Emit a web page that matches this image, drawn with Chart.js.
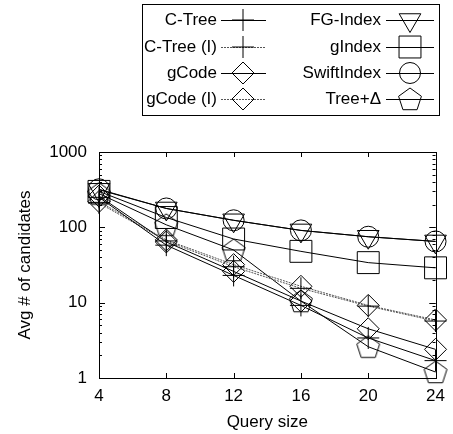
<!DOCTYPE html>
<html>
<head>
<meta charset="utf-8">
<script src="https://cdn.jsdelivr.net/npm/chart.js@4"></script>
<style>
  html, body { margin: 0; padding: 0; background: #fff; }
  #wrap { width: 453px; height: 434px; }
</style>
</head>
<body>
<div id="wrap"><canvas id="chart" width="453" height="434"></canvas></div>
<script>
// data
const querySizes = [4, 8, 12, 16, 20, 24];
const cTree      = [250, 58, 23, 9.2, 3.4, 1.7];
const cTreeI     = [210, 66, 30, 15.5, 9, 5.7];
const gCode      = [260, 64, 26, 10.5, 4.5, 2.4];
const gCodeI     = [220, 68, 32, 16.5, 9.2, 5.9];
const fgIndex    = [315, 178, 124, 91, 75, 65];
const gIndex     = [300, 135, 70, 48, 34, 29];
const swiftIndex = [320, 178, 124, 91, 75, 65];
const treeDelta  = [280, 108, 50, 10.5, 2.6, 1.2];
const yTickLabels = [1, 10, 100, 1000];

// pentagon marker (no built-in one)
const pentagon = document.createElement('canvas');
pentagon.width = 26; pentagon.height = 26;
(function () {
    const c = pentagon.getContext('2d');
    c.strokeStyle = '#000';
    c.lineWidth = 1;
    c.beginPath();
    for (let i = 0; i < 5; i++) {
        const a = -Math.PI / 2 + i * 2 * Math.PI / 5;
        const px = 13 + Math.cos(a) * 12, py = 14 + Math.sin(a) * 12;
        if (i === 0) c.moveTo(px, py); else c.lineTo(px, py);
    }
    c.closePath();
    c.stroke();
})();

const series = [
    { label: 'C-Tree',      data: cTree,      style: 'cross',    r: 11,   dash: [] },
    { label: 'C-Tree (I)',  data: cTreeI,     style: 'cross',    r: 11,   dash: [2, 1] },
    { label: 'gCode',       data: gCode,      style: 'rectRot',  r: 11,   dash: [] },
    { label: 'gCode (I)',   data: gCodeI,     style: 'rectRot',  r: 11,   dash: [2, 1] },
    { label: 'FG-Index',    data: fgIndex,    style: 'triangle', r: 12.5, dash: [], rot: 180 },
    { label: 'gIndex',      data: gIndex,     style: 'rect',     r: 15.5, dash: [] },
    { label: 'SwiftIndex',  data: swiftIndex, style: 'circle',   r: 10.5, dash: [] },
    { label: 'Tree+\u0394', data: treeDelta,  style: pentagon,   r: 12,   dash: [] }
];

Chart.defaults.font.family = '"Liberation Sans", Arial, sans-serif';
Chart.defaults.font.size = 17;
Chart.defaults.color = '#000';

function drawMarker(ctx, s, x, y) {
    ctx.save();
    ctx.strokeStyle = '#000';
    ctx.lineWidth = 1;
    ctx.setLineDash([]);
    ctx.beginPath();
    const r = s.r;
    if (s.style === pentagon) {
        ctx.drawImage(pentagon, x - 13, y - 13);
        ctx.restore();
        return;
    } else if (s.style === 'cross') {
        ctx.moveTo(x, y - r); ctx.lineTo(x, y + r);
        ctx.moveTo(x - r, y); ctx.lineTo(x + r, y);
    } else if (s.style === 'rectRot') {
        ctx.moveTo(x - r, y); ctx.lineTo(x, y - r); ctx.lineTo(x + r, y); ctx.lineTo(x, y + r); ctx.closePath();
    } else if (s.style === 'rect') {
        const h = r * Math.SQRT1_2;
        ctx.rect(x - h, y - h, 2 * h, 2 * h);
    } else if (s.style === 'circle') {
        ctx.arc(x, y, r, 0, Math.PI * 2);
    } else if (s.style === 'triangle') {
        for (let i = 0; i < 3; i++) {
            const a = Math.PI / 2 + i * 2 * Math.PI / 3;
            const px = x + Math.cos(a) * r, py = y + Math.sin(a) * r;
            if (i === 0) ctx.moveTo(px, py); else ctx.lineTo(px, py);
        }
        ctx.closePath();
    }
    ctx.stroke();
    ctx.restore();
}

// frame, inward ticks and the boxed legend, gnuplot style
const framePlugin = {
    id: 'frame',
    afterDraw(chart) {
        const ctx = chart.ctx;
        const a = chart.chartArea;
        const xs = chart.scales.x, ys = chart.scales.y;
        ctx.save();
        ctx.strokeStyle = '#000';
        ctx.lineWidth = 1;
        ctx.beginPath();
        querySizes.forEach(v => {
            const px = Math.round(xs.getPixelForValue(v)) + 0.5;
            ctx.moveTo(px, a.bottom); ctx.lineTo(px, a.bottom - 5);
            ctx.moveTo(px, a.top); ctx.lineTo(px, a.top + 5);
        });
        for (let d = 1; d <= 100; d *= 10) {
            for (let m = 1; m <= 10; m++) {
                const py = Math.round(ys.getPixelForValue(d * m)) + 0.5;
                const len = (m === 1 || m === 10) ? 6 : 3;
                ctx.moveTo(a.left, py); ctx.lineTo(a.left + len, py);
                ctx.moveTo(a.right, py); ctx.lineTo(a.right - len, py);
            }
        }
        ctx.stroke();
        ctx.strokeRect(Math.round(a.left) + 0.5, Math.round(a.top) + 0.5,
                       Math.round(a.right - a.left), Math.round(a.bottom - a.top));

        // legend box
        ctx.strokeRect(142.5, 4.5, 297, 111);
        ctx.font = '17px "Liberation Sans", Arial, sans-serif';
        ctx.fillStyle = '#000';
        ctx.textAlign = 'right';
        ctx.textBaseline = 'middle';
        const rows = [20, 47, 73, 99];
        series.forEach((s, i) => {
            const col = i < 4 ? 0 : 1;
            const y = rows[i % 4];
            const textRight = col === 0 ? 217 : 381;
            const x0 = col === 0 ? 221 : 386;
            const x1 = col === 0 ? 266 : 434;
            const mx = col === 0 ? 243 : 410;
            ctx.fillText(s.label, textRight, y);
            ctx.save();
            ctx.beginPath();
            ctx.strokeStyle = s.dash.length ? '#555' : '#000';
            ctx.setLineDash(s.dash);
            ctx.moveTo(x0, y + 0.5); ctx.lineTo(x1, y + 0.5);
            ctx.stroke();
            ctx.restore();
            drawMarker(ctx, s, mx, y);
        });
        ctx.restore();
    }
};

new Chart(document.getElementById('chart'), {
    type: 'line',
    data: {
        datasets: series.map(s => ({
            label: s.label,
            data: querySizes.map((q, i) => ({ x: q, y: s.data[i] })),
            borderColor: s.dash.length ? '#555' : '#000',
            borderWidth: 1,
            borderDash: s.dash,
            fill: false,
            tension: 0,
            clip: false,
            pointStyle: s.style,
            pointRadius: s.r,
            pointRotation: s.rot || 0,
            pointBorderColor: '#000',
            pointBackgroundColor: 'rgba(0,0,0,0)',
            pointBorderWidth: 1
        }))
    },
    options: {
        responsive: false,
        animation: false,
        layout: { padding: { top: 152, right: 14, left: 0, bottom: 0 } },
        plugins: { legend: { display: false }, tooltip: { enabled: false } },
        scales: {
            x: {
                type: 'linear',
                min: 4,
                max: 24,
                grid: { display: false, drawTicks: false },
                border: { display: false },
                ticks: { stepSize: 4, padding: 8 },
                title: { display: true, text: 'Query size', padding: { top: 0, bottom: 1 } },
                afterFit(scale) { scale.height = 56; }
            },
            y: {
                type: 'logarithmic',
                min: 1,
                max: 1000,
                grid: { display: false, drawTicks: false },
                border: { display: false },
                ticks: {
                    padding: 12,
                    autoSkip: false,
                    callback: v => yTickLabels.includes(v) ? String(v) : ''
                },
                title: { display: true, text: 'Avg # of candidates', padding: { top: 15, bottom: 0 } },
                afterFit(scale) { scale.width = 99; }
            }
        }
    },
    plugins: [framePlugin]
});
</script>
</body>
</html>
